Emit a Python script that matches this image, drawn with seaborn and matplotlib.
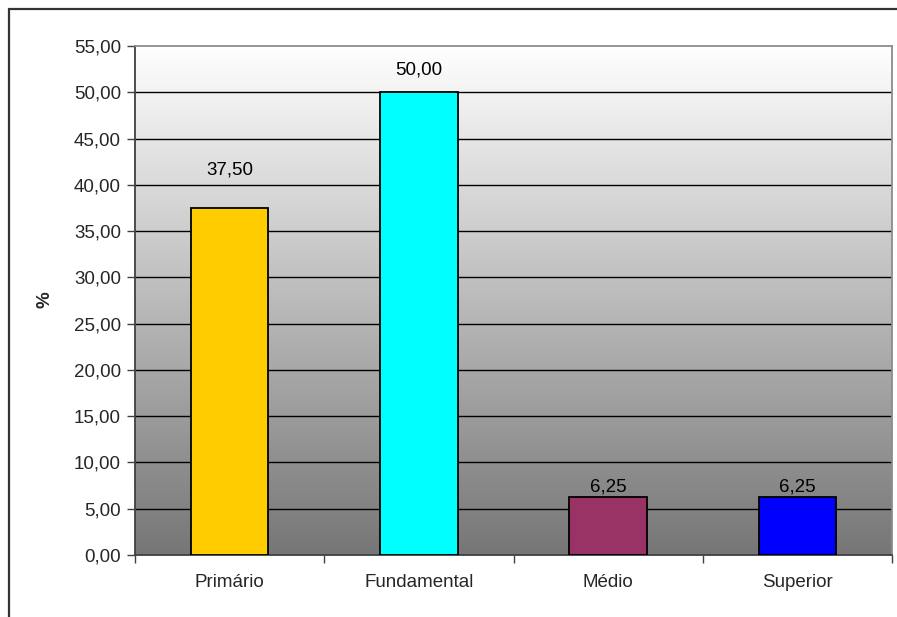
import numpy as np
import pandas as pd
import matplotlib
matplotlib.use("Agg")
import matplotlib.pyplot as plt
from matplotlib.colors import LinearSegmentedColormap
from matplotlib.lines import Line2D
import seaborn as sns

categories = ["Primário", "Fundamental", "Médio", "Superior"]
values = [37.50, 50.00, 6.25, 6.25]
bar_colors = ["#FFCC00", "#00FFFF", "#993366", "#0000FF"]
y_ticks = [0, 5, 10, 15, 20, 25, 30, 35, 40, 45, 50, 55]
label_offsets_pt = [21, 10, 1.5, 1.5]

def fmt(v):
    return f"{v:.2f}".replace(".", ",")

sns.set_theme(style="white")
plt.rcParams["font.family"] = ["Liberation Sans", "DejaVu Sans"]

fig = plt.figure(figsize=(8.97, 6.17), dpi=100)
ax = fig.add_axes([135 / 897, 1 - 555 / 617, (892 - 135) / 897, (555 - 46) / 617])

df = pd.DataFrame({"nivel": categories, "pct": values})
sns.barplot(data=df, x="nivel", y="pct", hue="nivel", palette=bar_colors,
            order=categories, hue_order=categories, legend=False,
            width=0.41, edgecolor="black", linewidth=1.3, saturation=1,
            ax=ax, zorder=3)

# Background gradient: white at the top fading to grey at the bottom
cmap = LinearSegmentedColormap.from_list("bg", ["#FFFFFF", "#767676"])
grad = np.linspace(1, 0, 256).reshape(-1, 1)
ax.imshow(grad, extent=[-0.5, 3.5, 0, 55], aspect="auto", cmap=cmap,
          vmin=0, vmax=1, zorder=0, origin="lower")
ax.set_xlim(-0.5, 3.5)
ax.set_ylim(0, 55)

ax.hlines(y_ticks[1:-1], -0.5, 3.5, colors="black", linewidth=1.0, zorder=1)

ax.set_yticks(y_ticks)
ax.set_yticklabels([fmt(t) for t in y_ticks], fontsize=13.5)
ax.set_xticks(range(len(categories)))
ax.set_xticklabels(categories, fontsize=13.5)
ax.set_xticks([i - 0.5 for i in range(len(categories) + 1)], minor=True)
ax.tick_params(axis="x", which="major", length=0, pad=14)
ax.tick_params(axis="x", which="minor", length=6, width=1, color="#404040", bottom=True)
ax.tick_params(axis="y", which="major", length=6, width=1, color="#404040", left=True, pad=4)
ax.set_xlabel("")
ax.set_ylabel("")
fig.text(45 / 897, 1 - 300 / 617, "%", rotation=90, ha="center", va="center",
         fontsize=13.5, fontweight="bold")

for side in ["left", "bottom"]:
    ax.spines[side].set_color("#404040")
    ax.spines[side].set_linewidth(1.3)
for side in ["top", "right"]:
    ax.spines[side].set_color("#8C8C8C")
    ax.spines[side].set_linewidth(1.3)
    ax.spines[side].set_visible(True)

for i, (v, off) in enumerate(zip(values, label_offsets_pt)):
    ax.annotate(fmt(v), xy=(i, v), xytext=(0, off), textcoords="offset points",
                ha="center", va="bottom", fontsize=13.5, color="black")

# Chart frame
x0 = 8.5 / 897
y0 = 1 - 8.5 / 617
fig.add_artist(Line2D([x0, x0], [0, y0], transform=fig.transFigure,
                      color="#333333", linewidth=1.6))
fig.add_artist(Line2D([x0, 1], [y0, y0], transform=fig.transFigure,
                      color="#333333", linewidth=1.6))

fig.savefig("out.png", dpi=100)
